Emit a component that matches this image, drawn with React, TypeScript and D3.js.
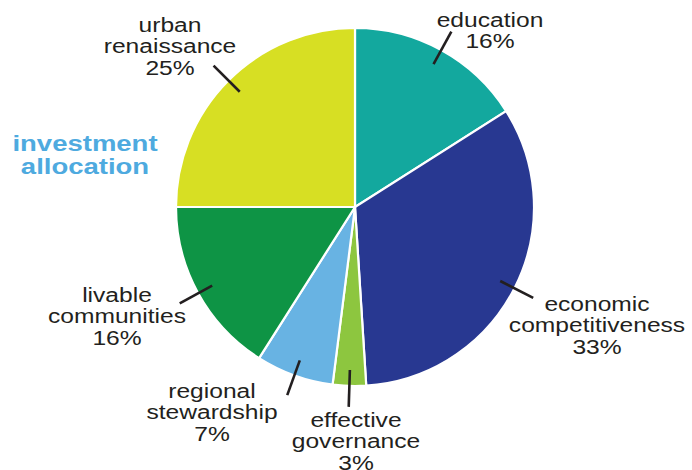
import React from "react";
import * as d3 from "d3";

const categories = [
  "education",
  "economic competitiveness",
  "effective governance",
  "regional stewardship",
  "livable communities",
  "urban renaissance",
];
const labelLines = [
  ["education", "16%"],
  ["economic", "competitiveness", "33%"],
  ["effective", "governance", "3%"],
  ["regional", "stewardship", "7%"],
  ["livable", "communities", "16%"],
  ["urban", "renaissance", "25%"],
];
const values = [16, 33, 3, 7, 16, 25];
const titleLines = ["investment", "allocation"];

const colors = ["#13a89e", "#283891", "#8dc63f", "#68b3e3", "#0e9445", "#d7df23"];
// label anchor (center x, first baseline y)
const labelPos: [number, number][] = [
  [490, 27],
  [597, 311],
  [356, 427],
  [212, 398],
  [117, 302],
  [170, 32],
];

const W = 692;
const H = 470;
const cx = 355;
const cy = 207;
const R = 179;
const SX = 1.23;
const FONT = "'Liberation Sans', Arial, Helvetica, sans-serif";

export default function App() {
  const pie = d3
    .pie<number>()
    .sort(null)
    .value((d) => d)
    .startAngle(0)
    .endAngle(2 * Math.PI);
  const arcs = pie(values);
  const arc = d3.arc<d3.PieArcDatum<number>>().innerRadius(0).outerRadius(R);

  const leader = (a: d3.PieArcDatum<number>) => {
    const m = (a.startAngle + a.endAngle) / 2;
    const r1 = 163;
    const r2 = 200;
    return {
      x1: Math.sin(m) * r1,
      y1: -Math.cos(m) * r1,
      x2: Math.sin(m) * r2,
      y2: -Math.cos(m) * r2,
    };
  };

  return (
    <svg
      width={W}
      height={H}
      style={{ position: "absolute", left: 0, top: 0, background: "#fff" }}
    >
      <g transform={`translate(${cx},${cy})`}>
        {arcs.map((a, i) => (
          <path
            key={categories[i]}
            d={arc(a) || ""}
            fill={colors[i]}
            stroke="#fff"
            strokeWidth={2.2}
          />
        ))}
        {arcs.map((a, i) => {
          const l = leader(a);
          return (
            <line
              key={"l" + i}
              x1={l.x1}
              y1={l.y1}
              x2={l.x2}
              y2={l.y2}
              stroke="#231f20"
              strokeWidth={2.6}
            />
          );
        })}
      </g>
      {labelLines.map((lines, i) => (
        <g
          key={"t" + i}
          transform={`translate(${labelPos[i][0]},${labelPos[i][1]}) scale(${SX},1)`}
        >
          {lines.map((s, j) => (
            <text
              key={j}
              x={0}
              y={j * 21.5}
              textAnchor="middle"
              fontFamily={FONT}
              fontSize={20}
              fill="#231f20"
            >
              {s}
            </text>
          ))}
        </g>
      ))}
      <g transform={`translate(85,151) scale(1.25,1)`}>
        {titleLines.map((s, j) => (
          <text
            key={s}
            x={0}
            y={j * 23}
            textAnchor="middle"
            fontFamily={FONT}
            fontWeight="bold"
            fontSize={22}
            fill="#4eaadf"
          >
            {s}
          </text>
        ))}
      </g>
    </svg>
  );
}
